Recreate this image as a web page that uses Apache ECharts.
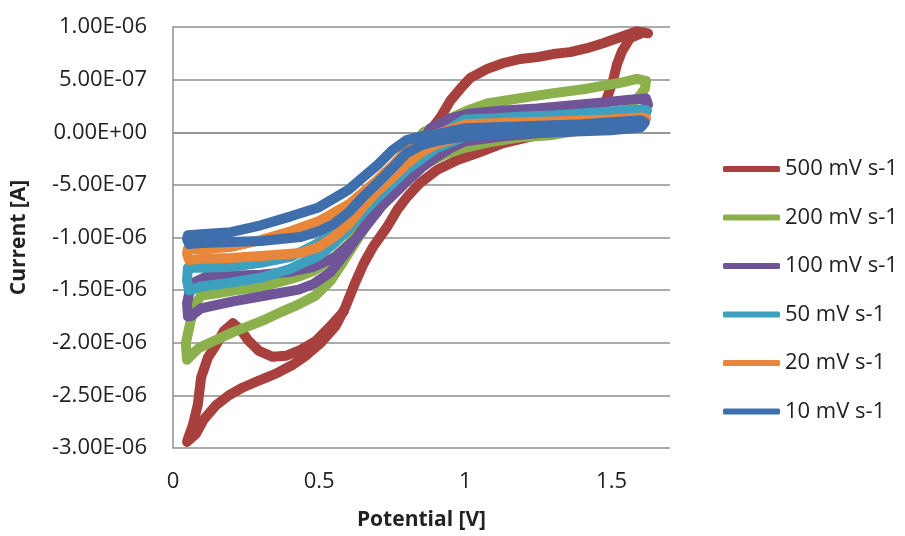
<!DOCTYPE html>
<html>
<head>
<meta charset="utf-8">
<script src="https://cdn.jsdelivr.net/npm/echarts@6/dist/echarts.min.js"></script>
<style>
html,body{margin:0;padding:0;background:#fff;}
#chart{width:905px;height:536px;}
</style>
</head>
<body>
<div id="chart"></div>
<script>
// Series names (scan rates)
const seriesNames = ['500 mV s-1', '200 mV s-1', '100 mV s-1', '50 mV s-1', '20 mV s-1', '10 mV s-1'];

// [Potential (V), Current (A)] traced in drawing order
const cv500 = [
[0.585,-1.700e-6],[0.539,-1.842e-6],[0.488,-1.983e-6],[0.437,-2.068e-6],[0.386,-2.124e-6],[0.341,-2.134e-6],[0.294,-2.077e-6],[0.259,-1.983e-6],[0.232,-1.880e-6],[0.205,-1.814e-6],
[0.174,-1.889e-6],[0.147,-2.021e-6],[0.119,-2.143e-6],[0.096,-2.331e-6],[0.085,-2.585e-6],[0.068,-2.782e-6],[0.051,-2.914e-6],[0.048,-2.942e-6],
[0.078,-2.867e-6],[0.106,-2.726e-6],[0.147,-2.594e-6],[0.191,-2.500e-6],[0.239,-2.425e-6],[0.294,-2.359e-6],[0.352,-2.294e-6],[0.410,-2.209e-6],[0.454,-2.124e-6],[0.505,-2.002e-6],[0.556,-1.842e-6],[0.590,-1.660e-6],[0.620,-1.450e-6],[0.652,-1.250e-6],[0.686,-1.081e-6],[0.734,-0.893e-6],[0.768,-0.733e-6],[0.802,-0.611e-6],[0.846,-0.479e-6],[0.904,-0.357e-6],[0.973,-0.263e-6],[1.041,-0.197e-6],[1.130,-0.103e-6],[1.246,-0.028e-6],[1.324,0.019e-6],[1.410,0.094e-6],[1.461,0.160e-6],[1.485,0.329e-6],[1.505,0.489e-6],[1.519,0.649e-6],[1.536,0.771e-6],[1.563,0.893e-6],[1.608,0.949e-6],[1.625,0.940e-6],
[1.587,0.959e-6],[1.529,0.902e-6],[1.471,0.846e-6],[1.416,0.799e-6],[1.358,0.761e-6],[1.300,0.743e-6],[1.246,0.714e-6],[1.188,0.696e-6],[1.130,0.658e-6],[1.075,0.602e-6],[1.017,0.517e-6],[0.983,0.414e-6],[0.949,0.301e-6],[0.915,0.141e-6],[0.881,0.019e-6],[0.846,-0.075e-6],[0.829,-0.150e-6]
];

const cv200 = [
[0.061,-1.786e-6],[0.078,-1.626e-6],[0.096,-1.551e-6],[0.147,-1.532e-6],[0.205,-1.504e-6],[0.256,-1.485e-6],[0.317,-1.457e-6],[0.369,-1.419e-6],[0.430,-1.372e-6],[0.481,-1.316e-6],[0.539,-1.222e-6],[0.601,-1.062e-6],[0.676,-0.733e-6],[0.754,-0.404e-6],[0.812,-0.150e-6],[0.857,0.000e-6],[0.891,0.047e-6],[0.949,0.132e-6],[1.007,0.207e-6],[1.075,0.273e-6],[1.177,0.320e-6],[1.290,0.367e-6],[1.416,0.414e-6],[1.529,0.470e-6],[1.587,0.508e-6],[1.618,0.489e-6],
[1.614,0.414e-6],[1.597,0.348e-6],[1.563,0.254e-6],[1.529,0.179e-6],[1.461,0.066e-6],[1.392,0.019e-6],[1.290,-0.028e-6],[1.188,-0.047e-6],[1.085,-0.094e-6],[0.993,-0.150e-6],[0.925,-0.216e-6],[0.870,-0.291e-6],[0.812,-0.414e-6],[0.768,-0.545e-6],[0.720,-0.686e-6],[0.676,-0.827e-6],[0.631,-1.015e-6],[0.584,-1.222e-6],[0.539,-1.410e-6],[0.488,-1.551e-6],[0.430,-1.636e-6],[0.375,-1.701e-6],[0.317,-1.777e-6],[0.259,-1.842e-6],[0.205,-1.899e-6],[0.147,-1.974e-6],[0.089,-2.049e-6],[0.061,-2.124e-6],[0.048,-2.162e-6],[0.044,-2.002e-6],[0.055,-1.861e-6],[0.061,-1.786e-6]
];

const cv100 = [
[0.055,-1.532e-6],[0.078,-1.419e-6],[0.113,-1.372e-6],[0.198,-1.363e-6],[0.300,-1.354e-6],[0.403,-1.325e-6],[0.481,-1.278e-6],[0.556,-1.184e-6],[0.625,-1.015e-6],[0.700,-0.752e-6],[0.778,-0.432e-6],[0.846,-0.122e-6],[0.881,0.038e-6],[0.949,0.132e-6],[1.017,0.179e-6],[1.130,0.207e-6],[1.246,0.226e-6],[1.358,0.254e-6],[1.471,0.282e-6],[1.563,0.310e-6],[1.618,0.320e-6],
[1.625,0.263e-6],[1.597,0.188e-6],[1.529,0.094e-6],[1.461,0.038e-6],[1.358,0.009e-6],[1.246,-0.009e-6],[1.130,-0.038e-6],[1.000,-0.085e-6],[0.950,-0.150e-6],[0.901,-0.235e-6],[0.850,-0.338e-6],[0.799,-0.470e-6],[0.754,-0.592e-6],[0.700,-0.733e-6],[0.648,-0.921e-6],[0.601,-1.110e-6],[0.539,-1.330e-6],[0.481,-1.440e-6],[0.430,-1.495e-6],[0.317,-1.551e-6],[0.205,-1.607e-6],[0.096,-1.673e-6],[0.061,-1.748e-6],[0.051,-1.748e-6],[0.048,-1.626e-6],[0.055,-1.532e-6]
];

const cv50 = [
[0.051,-1.288e-6],[0.096,-1.288e-6],[0.198,-1.278e-6],[0.300,-1.241e-6],[0.403,-1.184e-6],[0.498,-1.053e-6],[0.601,-0.827e-6],[0.700,-0.545e-6],[0.799,-0.244e-6],[0.850,-0.122e-6],[0.901,-0.038e-6],[1.000,0.122e-6],[1.099,0.132e-6],[1.201,0.150e-6],[1.300,0.160e-6],[1.399,0.179e-6],[1.498,0.197e-6],[1.601,0.216e-6],[1.621,0.207e-6],
[1.614,0.150e-6],[1.601,0.113e-6],[1.498,0.066e-6],[1.399,0.038e-6],[1.300,0.019e-6],[1.201,0.009e-6],[1.099,0.000e-6],[1.000,-0.040e-6],[0.901,-0.150e-6],[0.850,-0.254e-6],[0.799,-0.357e-6],[0.754,-0.479e-6],[0.700,-0.620e-6],[0.648,-0.771e-6],[0.601,-0.921e-6],[0.549,-1.062e-6],[0.498,-1.175e-6],[0.437,-1.250e-6],[0.403,-1.297e-6],[0.300,-1.382e-6],[0.198,-1.429e-6],[0.096,-1.466e-6],[0.055,-1.504e-6],[0.048,-1.410e-6],[0.051,-1.288e-6]
];

const cv20 = [
[0.051,-1.109e-6],[0.096,-1.109e-6],[0.198,-1.090e-6],[0.300,-1.025e-6],[0.403,-0.940e-6],[0.498,-0.846e-6],[0.601,-0.686e-6],[0.700,-0.451e-6],[0.754,-0.310e-6],[0.799,-0.169e-6],[0.850,-0.075e-6],[0.901,-0.019e-6],[1.000,0.075e-6],[1.099,0.085e-6],[1.201,0.094e-6],[1.300,0.103e-6],[1.399,0.113e-6],[1.498,0.122e-6],[1.601,0.141e-6],[1.618,0.132e-6],
[1.608,0.085e-6],[1.563,0.056e-6],[1.498,0.038e-6],[1.399,0.019e-6],[1.300,0.009e-6],[1.201,0.000e-6],[1.099,-0.009e-6],[1.000,-0.028e-6],[0.901,-0.113e-6],[0.850,-0.188e-6],[0.799,-0.301e-6],[0.754,-0.423e-6],[0.700,-0.555e-6],[0.648,-0.714e-6],[0.601,-0.874e-6],[0.549,-0.996e-6],[0.498,-1.090e-6],[0.437,-1.147e-6],[0.300,-1.175e-6],[0.198,-1.194e-6],[0.096,-1.203e-6],[0.055,-1.213e-6],[0.048,-1.156e-6],[0.051,-1.109e-6]
];

const cv10 = [
[0.051,-0.978e-6],[0.096,-0.968e-6],[0.198,-0.949e-6],[0.300,-0.884e-6],[0.403,-0.799e-6],[0.498,-0.714e-6],[0.601,-0.545e-6],[0.648,-0.432e-6],[0.700,-0.310e-6],[0.751,-0.169e-6],[0.799,-0.075e-6],[0.850,-0.038e-6],[0.901,-0.019e-6],[1.000,0.038e-6],[1.099,0.047e-6],[1.201,0.056e-6],[1.300,0.066e-6],[1.399,0.075e-6],[1.498,0.094e-6],[1.601,0.113e-6],[1.614,0.094e-6],
[1.601,0.047e-6],[1.498,0.019e-6],[1.399,0.009e-6],[1.300,0.000e-6],[1.201,-0.009e-6],[1.099,-0.019e-6],[1.000,-0.038e-6],[0.901,-0.085e-6],[0.850,-0.122e-6],[0.799,-0.197e-6],[0.754,-0.329e-6],[0.700,-0.479e-6],[0.648,-0.620e-6],[0.601,-0.761e-6],[0.549,-0.874e-6],[0.498,-0.940e-6],[0.437,-0.996e-6],[0.300,-1.034e-6],[0.198,-1.043e-6],[0.096,-1.053e-6],[0.055,-1.062e-6],[0.048,-1.015e-6],[0.051,-0.978e-6]
];

const seriesData = [cv500, cv200, cv100, cv50, cv20, cv10];
const colors = ['#A8403D', '#8CB04C', '#6F5497', '#3DA0BF', '#E8863A', '#3F6EAC'];

// axis settings
const xMin = 0, xMax = 1.7, xStep = 0.5;
const yMin = -3e-6, yMax = 1e-6, yStep = 5e-7;

function fmtY(v) {
  if (Math.abs(v) < 1e-12) return '0.00E+00';
  let s = v.toExponential(2).toUpperCase();
  return s.replace(/E([+-])(\d)$/, 'E$10$2');
}

const FONT = 'Open Sans';
const chart = echarts.init(document.getElementById('chart'), null, {renderer: 'canvas'});
chart.setOption({
  animation: false,
  backgroundColor: '#ffffff',
  color: colors,
  grid: {left: 173, top: 27, width: 497, height: 425, containLabel: false},
  xAxis: {
    type: 'value', min: xMin, max: xMax, interval: xStep,
    name: 'Potential [V]', nameLocation: 'middle', nameGap: 62,
    nameTextStyle: {fontFamily: FONT, fontWeight: 'bold', fontSize: 21, color: '#222'},
    axisLine: {show: true, lineStyle: {color: '#8f8f8f', width: 1.5}},
    axisTick: {show: false},
    splitLine: {show: false},
    axisLabel: {
      fontFamily: FONT, fontSize: 22, color: '#222', margin: 23,
      showMaxLabel: false,
      formatter: function (v) { return (Math.abs(v / xStep - Math.round(v / xStep)) < 1e-6) ? String(+v.toFixed(1)) : ''; }
    }
  },
  yAxis: {
    type: 'value', min: yMin, max: yMax, interval: yStep,
    name: 'Current [A]', nameLocation: 'middle', nameGap: 143, nameRotate: 90,
    nameTextStyle: {fontFamily: FONT, fontWeight: 'bold', fontSize: 21, color: '#222'},
    axisLine: {show: true, onZero: false, lineStyle: {color: '#8f8f8f', width: 1.5}},
    axisTick: {show: false},
    splitLine: {show: true, lineStyle: {color: '#8f8f8f', width: 1.5}},
    axisLabel: {fontFamily: FONT, fontSize: 22, color: '#222', margin: 26, formatter: fmtY}
  },
  legend: {
    orient: 'vertical', left: 718, top: 153,
    itemWidth: 57, itemHeight: 6, itemGap: 26.5,
    icon: 'roundRect',
    textStyle: {fontFamily: FONT, fontSize: 22, color: '#222', lineHeight: 22},
    data: seriesNames
  },
  series: seriesData.map(function (d, i) {
    return {
      name: seriesNames[i], type: 'line', data: d,
      showSymbol: false, smooth: false, clip: true,
      lineStyle: {width: 10, color: colors[i], cap: 'round', join: 'round'},
      itemStyle: {color: colors[i]},
      z: 2 + i
    };
  })
});
</script>
</body>
</html>
